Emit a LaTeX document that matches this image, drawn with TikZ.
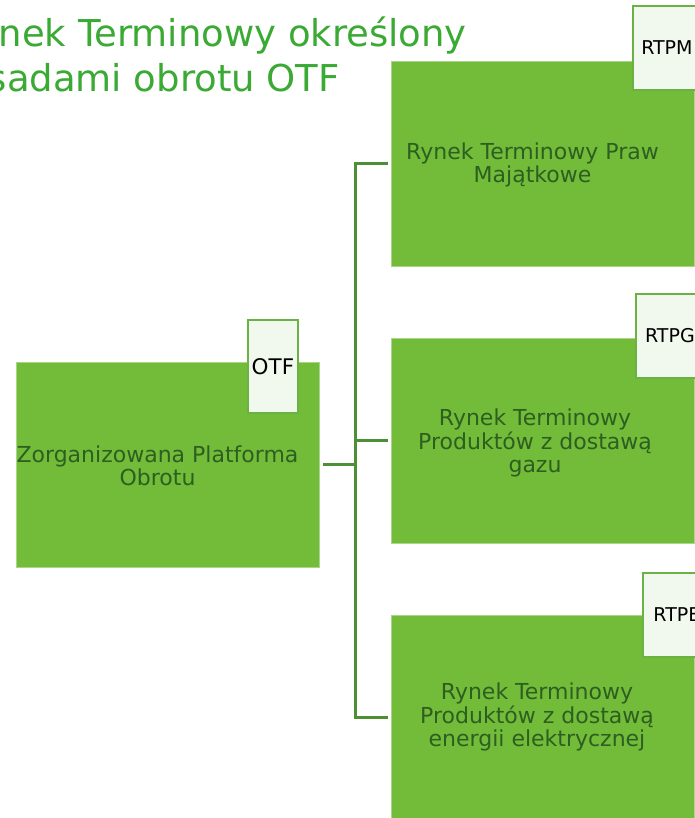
\documentclass[tikz,border=0pt]{standalone}
\usepackage{fontspec}
\setmainfont{DejaVu Sans}
\usetikzlibrary{calc}
\definecolor{boxgreen}{RGB}{114,188,58}
\definecolor{boxedge}{RGB}{170,214,135}
\definecolor{lblfill}{RGB}{241,248,237}
\definecolor{lbledge}{RGB}{106,178,68}
\definecolor{txtgreen}{RGB}{46,94,32}
\definecolor{titlegreen}{RGB}{59,170,53}
\definecolor{linegreen}{RGB}{76,143,53}
\begin{document}
\begin{tikzpicture}[x=1pt,y=-1pt,
  mainbox/.style={draw=boxedge, line width=0.8pt, fill=boxgreen, minimum width=303pt, minimum height=205pt, inner sep=0pt, anchor=north west},
  lblbox/.style={draw=lbledge, line width=1.8pt, fill=lblfill, inner sep=0pt, anchor=north west, text=black, font=\fontsize{19}{22}\selectfont},
  boxtext/.style={text=txtgreen, align=center, inner sep=0pt, font=\fontsize{22}{23.5}\selectfont},
  titletext/.style={text=titlegreen, inner sep=0pt, font=\fontsize{37}{46}\selectfont, anchor=base east},
  conn/.style={draw=linegreen, line width=3pt}]
\useasboundingbox (0,0) rectangle (695,818);
\clip (0,0) rectangle (695,818);
\fill[white] (0,0) rectangle (695,818);
% title
\node[titletext] (ti1) at (467,47) {Rynek Terminowy określony};
\node[titletext] (ti2) at (340,92) {zasadami obrotu OTF};
% main boxes
\node[mainbox] (b0) at (16,362) {};
\node[mainbox] (b1) at (391,61) {};
\node[mainbox] (b2) at (391,338) {};
\node[mainbox] (b3) at (391,615) {};
% labels
\node[lblbox, minimum width=50pt, minimum height=93pt, font=\fontsize{21.5}{24}\selectfont] (l0) at (247,319) {OTF};
\node[lblbox, minimum width=68pt, minimum height=84pt] (l1) at (632,5) {RTPM};
\node[lblbox, minimum width=68pt, minimum height=84pt] (l2) at (635,293) {RTPG};
\node[lblbox, minimum width=68pt, minimum height=84pt] (l3) at (642,572) {RTPE};
% box texts
\node[boxtext] (tx0) at (157.5,466) {Zorganizowana Platforma\\Obrotu};
\node[boxtext] (tx1) at (532.5,165) {Rynek Terminowy Praw\\Majątkowe};
\node[boxtext] (tx2) at (535,443) {Rynek Terminowy\\Produktów z dostawą\\gazu};
\node[boxtext] (tx3) at (537,717) {Rynek Terminowy\\Produktów z dostawą\\energii elektrycznej};
% connectors
\coordinate (jx) at (355,0);
\draw[conn] ([xshift=3pt]b0.east) -- (b0.east -| jx);
\draw[conn] ([xshift=-3pt]b1.west) -| (jx |- b3.west) -- ([xshift=-3pt]b3.west);
\draw[conn] ([xshift=-3pt]b2.west) -- (b2.west -| jx);
\end{tikzpicture}
\end{document}
